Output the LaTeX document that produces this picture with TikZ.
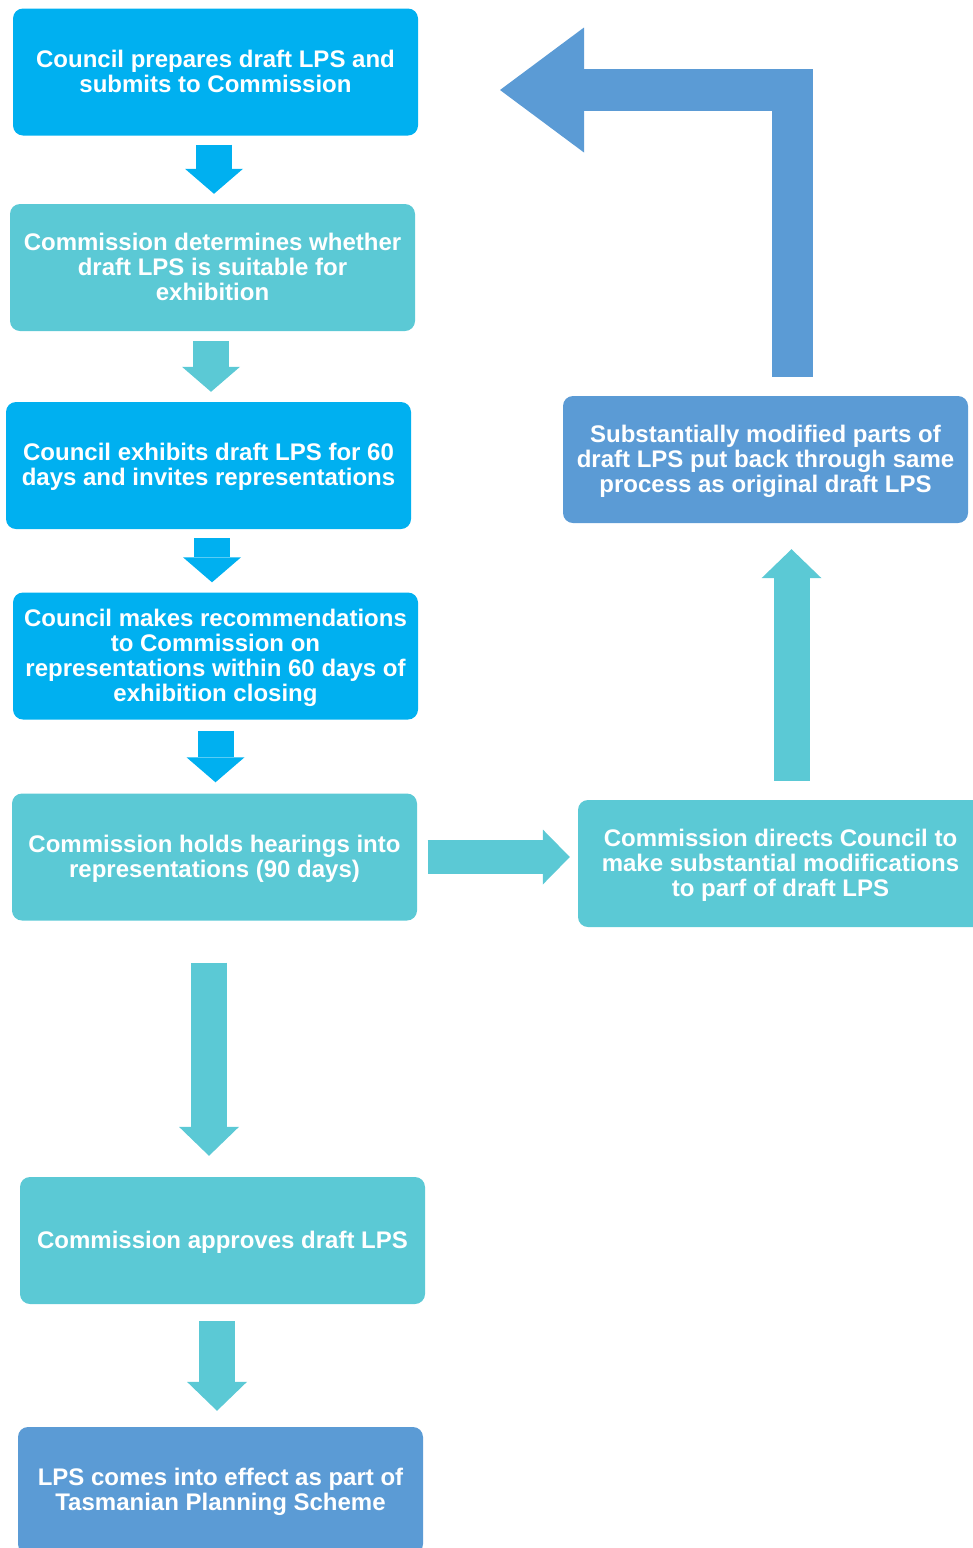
\documentclass[tikz,border=0pt]{standalone}
\usepackage{fontspec}
\setmainfont{Liberation Sans}
\usetikzlibrary{arrows.meta}
\definecolor{cyanbox}{HTML}{00B0F0}
\definecolor{tealbox}{HTML}{5BC9D5}
\definecolor{steelbox}{HTML}{5B9BD5}

\begin{document}
\begin{tikzpicture}[
  x=1pt,y=-1pt,
  box/.style={rounded corners=10pt,minimum width=405pt,minimum height=127pt,
    inner sep=0pt,align=center,text=white,text depth=1.5pt,
    font=\fontsize{24}{25}\selectfont\bfseries},
  flow/.style={line width=36pt,
    -{Triangle[length=25pt,width=58pt,line width=0pt]}},
  longflow/.style={line width=36pt,
    -{Triangle[length=29pt,width=60pt,line width=0pt]}},
]
\clip (0,0) rectangle (973,1548);

% ----- main column -----
\node[box,fill=cyanbox]  (prepare)  at (215.5,72)   {Council prepares draft LPS and\\submits to Commission};
\node[box,fill=tealbox]  (suitable) at (212.5,267.5) {Commission determines whether\\draft LPS is suitable for\\exhibition};
\node[box,fill=cyanbox]  (exhibit)  at (208.5,465.5) {Council exhibits draft LPS for 60\\days and invites representations};
\node[box,fill=cyanbox]  (recommend) at (215.5,656)  {Council makes recommendations\\to Commission on\\representations within 60 days of\\exhibition closing};
\node[box,fill=tealbox]  (hearing)  at (214.5,857)   {Commission holds hearings into\\representations (90 days)};
\node[box,fill=tealbox]  (approve)  at (222.5,1240.5) {Commission approves draft LPS};
\node[box,fill=steelbox] (effect)   at (220.5,1490.5) {LPS comes into effect as part of\\Tasmanian Planning Scheme};

% ----- side loop -----
\node[box,fill=tealbox]  (direct)   at (780.5,863.5) {Commission directs Council to\\make substantial modifications\\to parf of draft LPS};
\node[box,fill=steelbox] (back)     at (765.5,459.5) {Substantially modified parts of\\draft LPS put back through same\\process as original draft LPS};
\coordinate (restart) at (500,90);

% ----- block arrows -----
\draw[cyanbox,flow,shorten <=9pt,shorten >=10pt] ([xshift=-1.5pt]prepare.south) -- ([xshift=-1.5pt]prepare.south |- suitable.north);
\draw[tealbox,flow,shorten <=10pt,shorten >=10pt] ([xshift=-1.5pt]suitable.south) -- ([xshift=-1.5pt]suitable.south |- exhibit.north);
\draw[cyanbox,flow,shorten <=9pt,shorten >=10pt] ([xshift=3.5pt]exhibit.south) -- ([xshift=3.5pt]exhibit.south |- recommend.north);
\draw[cyanbox,flow,shorten <=11pt,shorten >=11pt] (recommend.south) -- (recommend.south |- hearing.north);
\draw[tealbox,longflow,shorten <=42pt,shorten >=21pt] ([xshift=-5.5pt]hearing.south) -- ([xshift=-5.5pt]hearing.south |- approve.north);
\draw[tealbox,longflow,shorten <=17pt,shorten >=16pt] ([xshift=-5.5pt]approve.south) -- ([xshift=-5.5pt]approve.south |- effect.north);
\draw[tealbox,line width=33.5pt,-{Triangle[length=27pt,width=55pt,line width=0pt]},
  shorten <=10.5pt,shorten >=8pt] (hearing.east) -- (hearing.east -| direct.west);
\draw[tealbox,longflow,shorten <=19pt,shorten >=26pt] ([xshift=11pt]direct.north) -- ([xshift=11pt]direct.north |- back.south);
\draw[steelbox,line width=41.5pt,line join=miter,shorten <=19pt,
  -{Triangle[length=84pt,width=125pt,line width=0pt]}] ([xshift=27pt]back.north) |- (restart);

\end{tikzpicture}
\end{document}
